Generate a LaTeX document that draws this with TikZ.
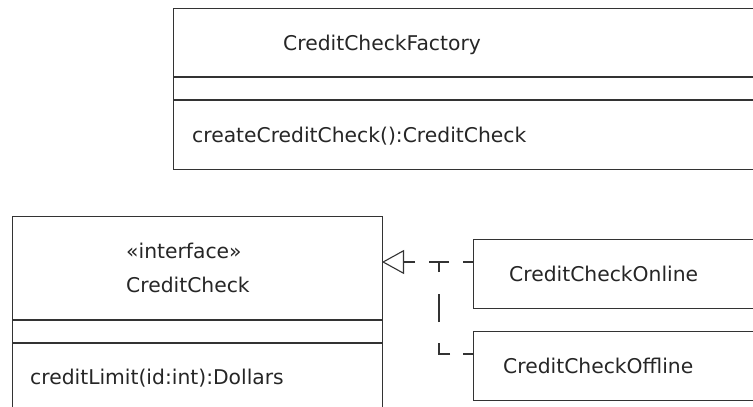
\documentclass[tikz,border=0pt]{standalone}
\usepackage{fontspec}
\setmainfont{DejaVu Sans}
\usetikzlibrary{arrows.meta}
\begin{document}
\begin{tikzpicture}[x=1pt,y=-1pt,
  box/.style={draw=black!80, line width=1.2pt, rectangle, inner sep=0pt, anchor=north west},
  lbl/.style={anchor=base west, inner sep=0pt, text=black!85, font=\fontsize{20.3}{24}\selectfont},
  sep/.style={draw=black!80, line width=1.2pt},
  dep/.style={draw=black!80, line width=1.1pt}]
\useasboundingbox (0,0) rectangle (753,407);
\fill[white] (0,0) rectangle (753,407);
% boxes
\node[box, minimum width=627, minimum height=161] (factory) at (173,8) {};
\node[box, minimum width=370, minimum height=214] (cc) at (12,216) {};
\node[box, minimum width=300, minimum height=69] (online) at (473,239) {};
\node[box, minimum width=300, minimum height=69] (offline) at (473,331) {};
% compartments
\draw[sep] (173,77) -- (800,77);
\draw[sep] (173,100) -- (800,100);
\draw[sep] (12,320) -- (382,320);
\draw[sep] (12,343) -- (382,343);
% texts
\node[lbl] (fname) at (283,50) {CreditCheckFactory};
\node[lbl] (fop) at (192,142) {createCreditCheck():CreditCheck};
\node[lbl] (ster) at (126,258) {«interface»};
\node[lbl] (ccname) at (126,292) {CreditCheck};
\node[lbl] (ccop) at (30,384) {creditLimit(id:int):Dollars};
\node[lbl] (onname) at (509,281) {CreditCheckOnline};
\node[lbl] (offname) at (503,373) {CreditCheckOffline};
% connectors
\coordinate (tip) at (382,262);
\coordinate (onport) at (473,262);
\coordinate (offport) at (473,354);
\coordinate (junc) at (439,262);
\coordinate (bend) at (439,354);
\draw[dep, dash pattern=on 10pt off 14pt on 20pt off 14pt on 11pt off 100pt,
      -{Triangle[open,length=22pt,width=24pt]}] (onport) -- (tip);
\draw[dep, dash pattern=on 10pt off 13pt on 22pt off 21pt on 28pt off 22pt on 10pt off 100pt]
      (offport) -- (bend) -- (junc);
\end{tikzpicture}
\end{document}
